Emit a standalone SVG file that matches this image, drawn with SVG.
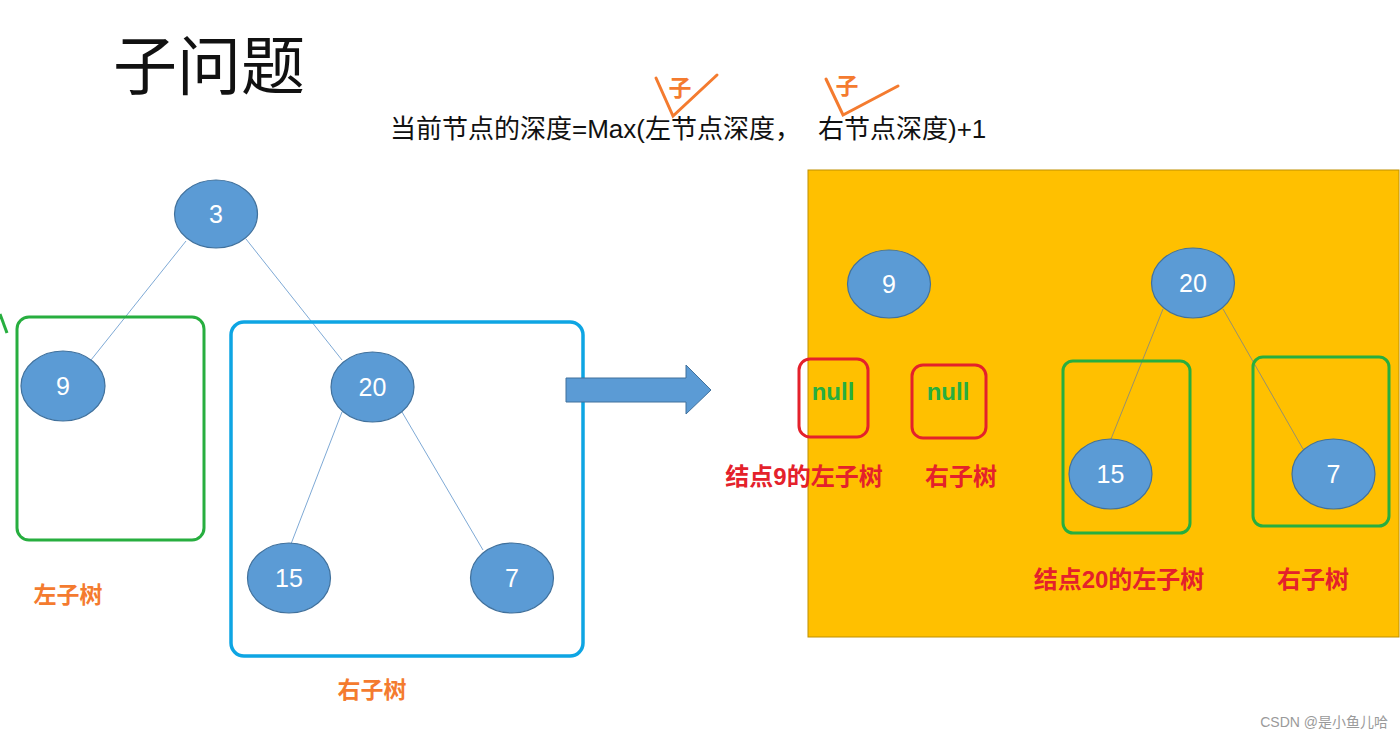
<svg xmlns="http://www.w3.org/2000/svg" width="1400" height="738" viewBox="0 0 1400 738">
<style>
.node ellipse{fill:#5b9bd5;stroke:#41719c;stroke-width:1.2}
.node text{fill:#fff;font-family:"Liberation Sans","Noto Sans",sans-serif;font-size:25px;text-anchor:middle;dominant-baseline:central}
.edge{stroke:#6f9fd0;stroke-width:0.9;fill:none}
.edgey{stroke:#8a8a7a;stroke-width:0.9;fill:none}
.orange{fill:#f47b2f;font-family:"Noto Sans CJK SC",sans-serif;font-weight:bold;font-size:23px;text-anchor:middle;dominant-baseline:central}
.red{fill:#e4212b;font-family:"Liberation Sans","Noto Sans CJK SC",sans-serif;font-weight:bold;font-size:24px;text-anchor:middle;dominant-baseline:central}
.null{fill:#27ae3f;font-family:"Liberation Sans",sans-serif;font-weight:bold;font-size:24px;text-anchor:middle;dominant-baseline:central}
.gbox{fill:none;stroke:#27ae3f;stroke-width:3}
.rbox{fill:none;stroke:#e4212b;stroke-width:3}
.mark{stroke:#f47b2f;stroke-width:3;fill:none;stroke-linecap:round}
</style>
<rect width="1400" height="738" fill="#ffffff"/>
<text x="113" y="89" font-family="Liberation Serif,'Noto Sans CJK SC',serif" font-size="64" fill="#111">子问题</text>
<text y="138" font-family="'Liberation Sans','Noto Sans CJK SC',sans-serif" font-size="26" fill="#111"><tspan x="390">当前节点的深度=Max(左节点深度，</tspan><tspan x="818">右节点深度)+1</tspan></text>
<g id="marks">
<polyline class="mark" points="656,78 673,116 717,75"/>
<polyline class="mark" points="826,79 843,115 898,86"/>
<text x="680" y="86" class="orange" font-size="20">子</text>
<text x="847" y="84" class="orange" font-size="20">子</text>
</g>
<rect id="panel" x="808" y="170" width="591" height="467" fill="#ffc000" stroke="#bf9000" stroke-width="1"/>
<g id="connectors">
<line class="edge" x1="186" y1="241" x2="91" y2="360"/>
<line class="edge" x1="246" y1="239" x2="342" y2="360"/>
<line class="edge" x1="342" y1="412" x2="291" y2="544"/>
<line class="edge" x1="402" y1="412" x2="483" y2="550"/>
<line class="edgey" x1="1163" y1="309" x2="1111" y2="439"/>
<line class="edgey" x1="1223" y1="309" x2="1303" y2="449"/>
</g>
<g id="boxes">
<line x1="0" y1="314" x2="7" y2="333" stroke="#27ae3f" stroke-width="3"/>
<rect class="gbox" x="17" y="317" width="187" height="223" rx="12"/>
<rect x="231" y="322" width="352" height="334" rx="13" fill="none" stroke="#0ea5e3" stroke-width="3.5"/>
<rect class="gbox" x="1063" y="361" width="127" height="172" rx="10"/>
<rect class="gbox" x="1253" y="357" width="136" height="169" rx="10"/>
<rect class="rbox" x="799" y="359" width="69" height="78" rx="11"/>
<rect class="rbox" x="912" y="365" width="74" height="73" rx="11"/>
</g>
<g id="arrow">
<polygon points="566,378 686,378 686,365 711,390 686,414 686,402 566,402" fill="#5b9bd5" stroke="#41719c" stroke-width="1"/>
</g>
<g id="n3" class="node"><ellipse cx="216" cy="214" rx="41.5" ry="34"/><text x="216" y="214">3</text></g>
<g id="n9" class="node"><ellipse cx="63" cy="386" rx="42" ry="35"/><text x="63" y="386">9</text></g>
<g id="n20" class="node"><ellipse cx="372.5" cy="387" rx="41.5" ry="35"/><text x="372.5" y="387">20</text></g>
<g id="n15" class="node"><ellipse cx="289" cy="578" rx="41.5" ry="35"/><text x="289" y="578">15</text></g>
<g id="n7" class="node"><ellipse cx="512" cy="578" rx="41.5" ry="35"/><text x="512" y="578">7</text></g>
<g id="r9" class="node"><ellipse cx="889" cy="284" rx="41.5" ry="34"/><text x="889" y="284">9</text></g>
<g id="r20" class="node"><ellipse cx="1193" cy="283" rx="41.5" ry="35"/><text x="1193" y="283">20</text></g>
<g id="r15" class="node"><ellipse cx="1110.5" cy="474" rx="41.5" ry="35"/><text x="1110.5" y="474">15</text></g>
<g id="r7" class="node"><ellipse cx="1333.5" cy="474" rx="41.5" ry="35"/><text x="1333.5" y="474">7</text></g>
<g id="labels">
<text x="68" y="593" class="orange">左子树</text>
<text x="372" y="688" class="orange">右子树</text>
<text x="833" y="391" class="null">null</text>
<text x="948" y="391" class="null">null</text>
<text x="804" y="476" class="red">结点9的左子树</text>
<text x="961" y="476" class="red">右子树</text>
<text x="1119" y="579" class="red">结点20的左子树</text>
<text x="1313" y="579" class="red">右子树</text>
</g>
<text x="1388" y="727" text-anchor="end" font-family="'Liberation Sans','Noto Sans CJK SC',sans-serif" font-size="14" fill="#9a9a9a">CSDN @是小鱼儿哈</text>
</svg>
